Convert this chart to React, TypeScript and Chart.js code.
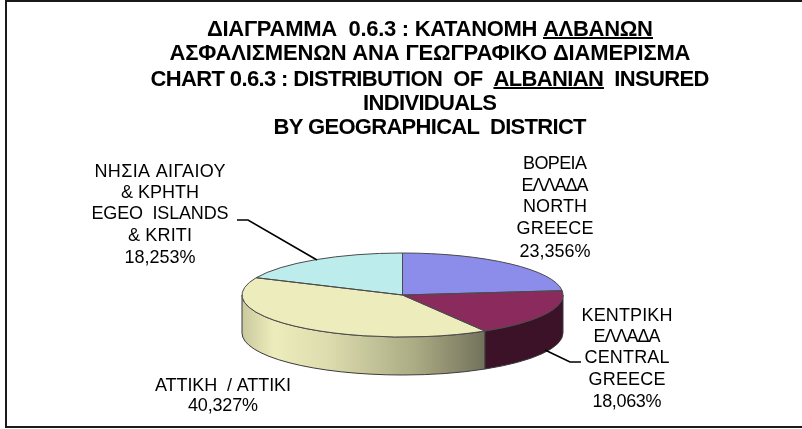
import React, { useEffect, useRef } from "react";
import { Chart, registerables } from "chart.js";

Chart.register(...registerables);

const categories = ["ΒΟΡΕΙΑ ΕΛΛΑΔΑ", "ΚΕΝΤΡΙΚΗ ΕΛΛΑΔΑ", "ΑΤΤΙΚΗ", "ΝΗΣΙΑ ΑΙΓΑΙΟΥ & ΚΡΗΤΗ"];
const shares = [23.356, 18.063, 40.327, 18.253];
const topColors = ["#8C8CEA", "#8B2B5D", "#ECECBC", "#BCECEC"];
const sideColors = ["#46467A", "#3C1228", "#8A8A60", "#5E7676"];

const FONT = '"Liberation Sans", Arial, sans-serif';
const RADIUS = 160.5;
const FLATTEN = 42 / 160.5;
const DEPTH = 38;

type Line = [string, number, number];

// text, baseline, width
const titleCentre = 430;
const titleLines: Line[] = [
  ["ΔΙΑΓΡΑΜΜΑ  0.6.3 : ΚΑΤΑΝΟΜΗ ΑΛΒΑΝΩΝ", 36, 446],
  ["ΑΣΦΑΛΙΣΜΕΝΩΝ ΑΝΑ ΓΕΩΓΡΑΦΙΚΟ ΔΙΑΜΕΡΙΣΜΑ", 60, 521],
  ["CHART 0.6.3 : DISTRIBUTION  OF  ALBANIAN  INSURED", 86, 559],
  ["INDIVIDUALS", 110, 134],
  ["BY GEOGRAPHICAL  DISTRICT", 134, 313],
];
const underlined = [
  [0, "ΑΛΒΑΝΩΝ"],
  [2, "ALBANIAN"],
] as [number, string][];

const labelBlocks: { centre: number; lines: Line[] }[] = [
  {
    centre: 555,
    lines: [
      ["ΒΟΡΕΙΑ", 169, 64],
      ["ΕΛΛΑΔΑ", 191, 67],
      ["NORTH", 212, 64],
      ["GREECE", 234, 77],
      ["23,356%", 257, 71],
    ],
  },
  {
    centre: 627,
    lines: [
      ["ΚΕΝΤΡΙΚΗ", 321, 91],
      ["ΕΛΛΑΔΑ", 342, 67],
      ["CENTRAL", 363, 85],
      ["GREECE", 385, 77],
      ["18,063%", 407, 69],
    ],
  },
  {
    centre: 223,
    lines: [
      ["ΑΤΤΙΚΗ  / ΑΤΤΙΚΙ", 391, 136],
      ["40,327%", 411, 70],
    ],
  },
  {
    centre: 160,
    lines: [
      ["ΝΗΣΙΑ ΑΙΓΑΙΟΥ", 177, 131],
      ["& ΚΡΗΤΗ", 198, 78],
      ["EGEO  ISLANDS", 219, 137],
      ["& KRITI", 241, 64],
      ["18,253%", 263, 71],
    ],
  },
];

const leaders = [
  [[237, 220], [248, 220], [317, 260]],
  [[545, 350], [570, 362], [581, 362]],
];

function spacingFor(ctx: CanvasRenderingContext2D, text: string, width: number) {
  ctx.letterSpacing = "0px";
  const natural = ctx.measureText(text).width;
  return (width - natural) / Math.max(text.length - 1, 1);
}

function drawLine(ctx: CanvasRenderingContext2D, [text, y, width]: Line, centre: number) {
  const gap = spacingFor(ctx, text, width);
  ctx.letterSpacing = `${gap}px`;
  ctx.textAlign = "left";
  ctx.textBaseline = "alphabetic";
  ctx.fillText(text, centre - width / 2, y);
  ctx.letterSpacing = "0px";
}

const piePlugin = {
  id: "flatPie",
  beforeDatasetsDraw(chart: any) {
    const ctx: CanvasRenderingContext2D = chart.ctx;
    const arcs = chart.getDatasetMeta(0).data;
    const { x, y } = arcs[0];
    arcs.forEach((arc: any, i: number) => {
      const a = Math.max(arc.startAngle, 0);
      const b = Math.min(arc.endAngle, Math.PI);
      if (b <= a) return;
      const rx = arc.outerRadius;
      const ry = rx * FLATTEN;
      ctx.save();
      ctx.beginPath();
      ctx.ellipse(x, y, rx, ry, 0, a, b);
      ctx.ellipse(x, y + DEPTH, rx, ry, 0, b, a, true);
      ctx.closePath();
      if (i === 2) {
        const g = ctx.createLinearGradient(x - rx, 0, x + 85, 0);
        g.addColorStop(0, "#C9C99E");
        g.addColorStop(0.13, "#ECECBC");
        g.addColorStop(0.35, "#DCDCAE");
        g.addColorStop(0.7, "#ACAC85");
        g.addColorStop(1, "#70705A");
        ctx.fillStyle = g;
      } else {
        ctx.fillStyle = sideColors[i];
      }
      ctx.fill();
      ctx.strokeStyle = "#3a3a3a";
      ctx.lineWidth = 1;
      ctx.stroke();
      ctx.restore();
    });
    ctx.save();
    ctx.translate(x, y);
    ctx.scale(1, FLATTEN);
    ctx.translate(-x, -y);
  },
  afterDatasetsDraw(chart: any) {
    const ctx: CanvasRenderingContext2D = chart.ctx;
    ctx.restore();
    const arcs = chart.getDatasetMeta(0).data;
    const { x, y } = arcs[0];
    ctx.save();
    ctx.strokeStyle = "#4a4a4a";
    ctx.lineWidth = 1;
    arcs.forEach((arc: any) => {
      const rx = arc.outerRadius;
      ctx.beginPath();
      ctx.moveTo(x, y);
      ctx.ellipse(x, y, rx, rx * FLATTEN, 0, arc.startAngle, arc.endAngle);
      ctx.closePath();
      ctx.stroke();
    });
    ctx.restore();
  },
  afterDraw(chart: any) {
    const ctx: CanvasRenderingContext2D = chart.ctx;
    ctx.save();
    ctx.strokeStyle = "#1a1a1a";
    ctx.lineWidth = 2;
    ctx.strokeRect(6, 1, 900, 426);

    ctx.fillStyle = "#000";
    ctx.font = `bold 22px ${FONT}`;
    titleLines.forEach((line) => drawLine(ctx, line, titleCentre));
    ctx.lineWidth = 2;
    ctx.strokeStyle = "#000";
    underlined.forEach(([index, word]) => {
      const [text, y, width] = titleLines[index];
      const gap = spacingFor(ctx, text, width);
      const start = text.indexOf(word);
      ctx.letterSpacing = `${gap}px`;
      const before = ctx.measureText(text.slice(0, start)).width;
      const len = ctx.measureText(word).width - gap;
      ctx.letterSpacing = "0px";
      const left = titleCentre - width / 2 + before;
      ctx.beginPath();
      ctx.moveTo(left, y + 2);
      ctx.lineTo(left + len, y + 2);
      ctx.stroke();
    });

    ctx.font = `18px ${FONT}`;
    ctx.fillStyle = "#000";
    labelBlocks.forEach((block) => block.lines.forEach((line) => drawLine(ctx, line, block.centre)));

    ctx.strokeStyle = "#000";
    ctx.lineWidth = 1.6;
    leaders.forEach((pts) => {
      ctx.beginPath();
      pts.forEach(([px, py], i) => (i ? ctx.lineTo(px, py) : ctx.moveTo(px, py)));
      ctx.stroke();
    });
    ctx.restore();
  },
};

export default function App() {
  const ref = useRef<HTMLCanvasElement>(null);
  useEffect(() => {
    const chart = new Chart(ref.current!, {
      type: "pie",
      data: {
        labels: categories,
        datasets: [
          {
            data: shares,
            backgroundColor: topColors,
            borderWidth: 0,
            radius: RADIUS,
            clip: false,
          } as any,
        ],
      },
      options: {
        responsive: false,
        animation: false,
        layout: { padding: { left: 3, top: 161, right: 0, bottom: 0 } },
        plugins: {
          legend: { display: false },
          tooltip: { enabled: false },
          title: { display: false },
        },
      },
      plugins: [piePlugin],
    });
    return () => chart.destroy();
  }, []);
  return (
    <div style={{ position: "absolute", left: 0, top: 0, width: 802, height: 429, background: "#fff", overflow: "hidden" }}>
      <canvas ref={ref} width={802} height={429} style={{ display: "block" }} />
    </div>
  );
}
